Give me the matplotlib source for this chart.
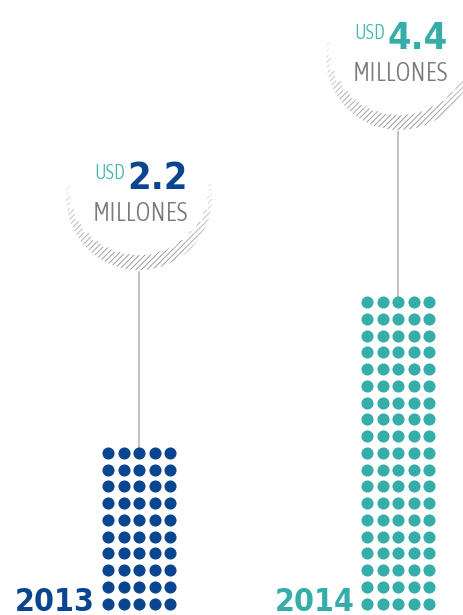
import numpy as np
import matplotlib
matplotlib.use("Agg")
import matplotlib.pyplot as plt
from matplotlib.patches import Polygon
from matplotlib import font_manager
from matplotlib.font_manager import FontProperties

# ---- data ----
years = ["2013", "2014"]
amounts = ["2.2", "4.4"]
currency = "USD"
unit = "MILLONES"
dot_rows = [10, 19]
dot_cols = [5, 5]

# ---- style ----
colors = ["#0A4590", "#35ADA9"]
teal_light = "#45B5B1"
gray_text = "#7B7B7B"
line_gray = "#B5B5B5"


def pick_font(bold):
    cands = []
    for f in font_manager.fontManager.ttflist:
        nm = f.name.lower()
        st = str(f.stretch).lower()
        fn = f.fname.lower()
        cond = ("condensed" in st or "narrow" in nm or "condensed" in nm
                or "condensed" in fn or "narrow" in fn)
        if not cond or "italic" in fn or "oblique" in fn or f.style != "normal":
            continue
        w = f.weight if isinstance(f.weight, int) else (700 if "bold" in str(f.weight) else 400)
        cands.append((abs(w - (700 if bold else 300)), f.fname))
    if cands:
        cands.sort()
        return FontProperties(fname=cands[0][1])
    return FontProperties(family="Roboto", weight="bold" if bold else "light")


fp_bold = pick_font(True)
fp_light = pick_font(False)

W, H = 463, 615
fig = plt.figure(figsize=(W / 100, H / 100), dpi=100)
ax = fig.add_axes([0, 0, 1, 1])
ax.set_xlim(0, W)
ax.set_ylim(H, 0)
ax.axis("off")
fig.canvas.draw()
renderer = fig.canvas.get_renderer()


def fit_text(s, left, right, base, top, fp, color):
    t = ax.text(left, base, s, fontproperties=fp.copy(), color=color,
                ha="left", va="baseline", zorder=4)
    t.set_fontsize(20)
    bb = t.get_window_extent(renderer)
    fs_w = 20 * (right - left) / bb.width
    fs_h = (base - top) / 0.72 / (100 / 72)
    fs = min(fs_w, fs_h)
    t.set_fontsize(fs)
    bb = t.get_window_extent(renderer)
    t.set_x(left + ((right - left) - bb.width) / 2)
    return t


# layout per bar (pixel coordinates)
grid_x0 = [108.3, 367.3]
grid_ybottom = [603.5, 603.5]
dx, dy = 15.4, 16.75
circ_c = [(139, 197), (399, 57)]
R = 73
year_box = [(15, 95), (275, 355)]
# text boxes relative to circle centre: (left, right, baseline, top)
usd_box = (-45, -14, -18, -39)
amt_box = (-11, 49, -8, -41)
mil_box = (-47, 49, 24, -1)


def crescent(cx, cy, R, tmax, a0, a1, n_seg=18):
    edges = np.linspace(a0, a1, n_seg + 1)
    for i in range(n_seg):
        th = np.linspace(np.radians(edges[i]), np.radians(edges[i + 1]), 20)
        mid = (0.5 * (edges[i] + edges[i + 1]) - a0) / (a1 - a0)
        frac = (th - np.radians(a0)) / (np.radians(a1) - np.radians(a0))
        t = tmax * np.clip(np.sin(np.pi * frac) ** 1.0, 0.2, 1)
        outer = np.column_stack([cx + R * np.cos(th), cy + R * np.sin(th)])
        inner = np.column_stack([cx + (R - t) * np.cos(th)[::-1], cy + (R - t) * np.sin(th)[::-1]])
        strength = np.sin(np.pi * mid) ** 0.6
        g = 1 - 0.42 * strength
        p = Polygon(np.vstack([outer, inner]), closed=True, facecolor="none",
                    edgecolor=(g, g, g), linewidth=0, hatch="//////")
        ax.add_patch(p)


plt.rcParams["hatch.linewidth"] = 0.65

for i in range(2):
    col = colors[i]
    xs, ys = [], []
    for r in range(dot_rows[i]):
        for c in range(dot_cols[i]):
            xs.append(grid_x0[i] + c * dx)
            ys.append(grid_ybottom[i] - r * dy)
    ax.scatter(xs, ys, s=76, color=col, linewidths=0, zorder=3)
    top = min(ys)
    cx, cy = circ_c[i]
    mid_x = grid_x0[i] + 2 * dx
    ax.plot([mid_x, mid_x], [cy + R + 2, top - 4], color=line_gray, lw=1.2, zorder=2)
    crescent(cx, cy, R, 15, -12, 192)
    fit_text(years[i], year_box[i][0], year_box[i][1], 611, 572, fp_bold, col)
    fit_text(amounts[i], cx + amt_box[0], cx + amt_box[1], cy + amt_box[2], cy + amt_box[3], fp_bold, col)
    fit_text(currency, cx + usd_box[0], cx + usd_box[1], cy + usd_box[2], cy + usd_box[3], fp_light, teal_light)
    fit_text(unit, cx + mil_box[0], cx + mil_box[1], cy + mil_box[2], cy + mil_box[3], fp_light, gray_text)

fig.savefig("out.png", dpi=100)
